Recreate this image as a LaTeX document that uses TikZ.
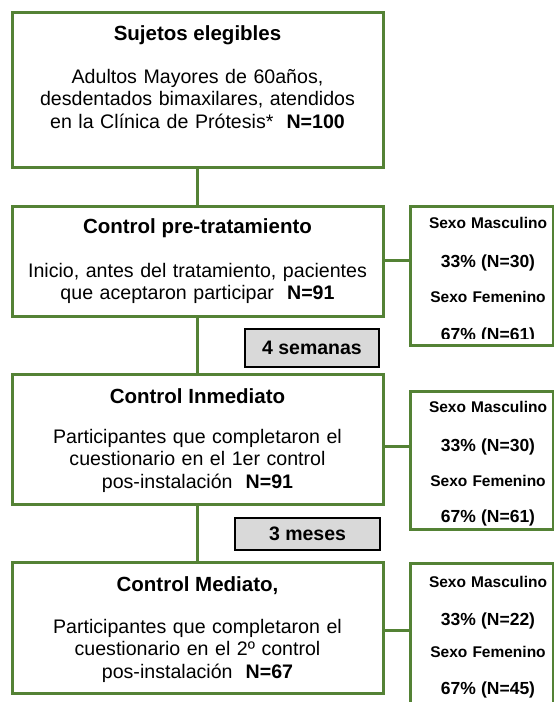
\documentclass[tikz,border=0pt]{standalone}
\usepackage{fontspec}
\setmainfont{Liberation Sans}
\usepackage{tikz}
\usetikzlibrary{positioning}
\definecolor{boxgreen}{RGB}{84,130,53}
\definecolor{boxgray}{RGB}{217,217,217}
\newcommand{\pct}[1]{{\fontsize{17.5}{36.5}\selectfont #1}}

\begin{document}
\begin{tikzpicture}[x=1pt, y=-1pt,
    mainbox/.style = {draw=boxgreen, line width=3pt, minimum width=371pt, inner sep=0pt},
    sidebox/.style = {draw=boxgreen, line width=3pt, minimum width=143pt, inner sep=0pt},
    timebox/.style = {draw=black, line width=1.5pt, fill=boxgray, inner sep=0pt,
      font=\fontsize{19.5}{23}\selectfont\bfseries},
    link/.style = {draw=boxgreen, line width=3pt},
    title/.style = {anchor=base, inner sep=0pt, font=\fontsize{20.5}{24}\selectfont\bfseries},
    body/.style = {anchor=base, inner sep=0pt, text width=371pt, align=center,
      font=\fontsize{19.6}{22.7}\selectfont},
    sexo/.style = {anchor=base, inner sep=0pt, text width=160pt, align=center,
      font=\fontsize{15.5}{36.5}\selectfont\bfseries}
    ]
    \useasboundingbox (0,0) rectangle (554,702);
    \clip (0,0) rectangle (554,702);

    \node[mainbox, minimum height=155pt] (elig) at (197.5,89.5) {};
    \node[mainbox, minimum height=110pt] (pre) at (197.5,261) {};
    \node[mainbox, minimum height=130pt] (inm) at (197.5,439) {};
    \node[mainbox, minimum height=131pt] (med) at (197.5,627.5) {};

    \node[sidebox, minimum height=139pt] (sexpre) at (481.5,275.5) {};
    \node[sidebox, minimum height=138pt] (sexinm) at (481.5,460) {};
    \node[sidebox, minimum height=180pt] (sexmed) at (481.5,653) {};

    \node[timebox, minimum width=134pt, minimum height=38pt] (sem) at (312,348) {4 semanas};
    \node[timebox, minimum width=145pt, minimum height=32pt] (mes) at (307.5,534) {3 meses};

    \node[title] (eligT) at (197.5,40) {Sujetos elegibles};
    \node[body] (eligB) at (197.5,83) {Adultos Mayores de 60años,\\
      desdentados bimaxilares, atendidos\\
      en la Clínica de Prótesis*\ \ \textbf{N=100}};
    \node[title] (preT) at (197.5,233) {Control pre-tratamiento};
    \node[body] (preB) at (197.5,277) {Inicio, antes del tratamiento, pacientes\\
      que aceptaron participar\ \ \textbf{N=91}};
    \node[title] (inmT) at (197.5,403) {Control Inmediato};
    \node[body] (inmB) at (197.5,443) {Participantes que completaron el\\
      cuestionario en el 1er control\\
      pos-instalación\ \ \textbf{N=91}};
    \node[title] (medT) at (197.5,591) {Control Mediato,};
    \node[body] (medB) at (197.5,633) {Participantes que completaron el\\
      cuestionario en el 2º control\\
      pos-instalación\ \ \textbf{N=67}};

    \begin{scope}
      \clip (410,206) rectangle (553,338.5);
      \node[sexo] (preS) at (488,228) {Sexo Masculino\\[2.5pt] \pct{33\% (N=30)}\\[-1.5pt]
        Sexo Femenino\\[2pt] \pct{67\% (N=61)}};
    \end{scope}
    \node[sexo] (inmS) at (488,412) {Sexo Masculino\\[2.5pt] \pct{33\% (N=30)}\\[-1.5pt]
      Sexo Femenino\\[0pt] \pct{67\% (N=61)}};
    \node[sexo] (medS) at (488,587) {Sexo Masculino\\[1.5pt] \pct{33\% (N=22)}\\[-4pt]
      Sexo Femenino\\[0pt] \pct{67\% (N=45)}};

    \draw[link] (elig) -- (pre);
    \draw[link] (pre) -- (inm);
    \draw[link] (inm) -- (med);
    \draw[link] ([yshift=1pt]pre.east) -- ([yshift=1pt]pre.east -| sexpre.west);
    \draw[link] ([yshift=-7pt]inm.east) -- ([yshift=-7pt]inm.east -| sexinm.west);
    \draw[link] ([yshift=-3pt]med.east) -- ([yshift=-3pt]med.east -| sexmed.west);
\end{tikzpicture}
\end{document}
